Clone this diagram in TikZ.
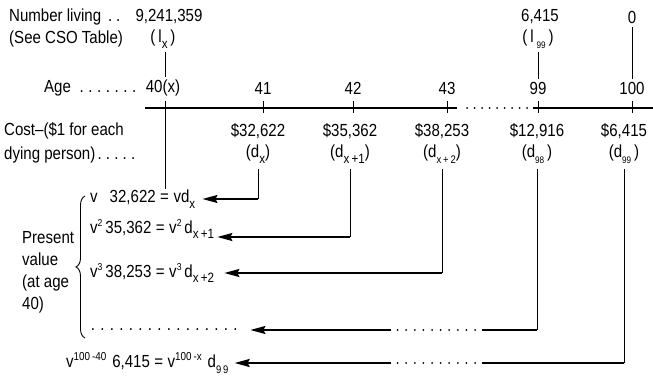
\documentclass[tikz,border=0pt]{standalone}
\usepackage{fontspec}
\setmainfont{Liberation Sans}[FakeStretch=0.86]
\usetikzlibrary{arrows.meta,decorations.pathreplacing,calc,positioning}

\newcommand{\dn}[2][13.5]{\raisebox{-0.6ex}{\fontsize{#1}{#1}\selectfont #2}}
\newcommand{\up}[2][10]{\raisebox{0.8ex}{\fontsize{#1}{#1}\selectfont #2}}
\newcommand{\dotrun}[2]{\hbox to #1{\xleaders\hbox to #2{\hss.\hss}\hfill}}
\newcommand{\eqs}{\hspace{4.5pt}=\hspace{4.5pt}}

\begin{document}
\begin{tikzpicture}[x=1pt,y=-1pt,
    every node/.style={inner sep=1pt, font=\fontsize{17.5}{20}\selectfont},
    axis/.style={line width=2.3pt},
    stem/.style={line width=0.9pt},
    leg/.style={line width=1.8pt},
    feed/.style={leg, -{Stealth[length=15pt,width=8pt,inset=2pt]}},
    dotrow/.style={line width=2pt, line cap=round, dash pattern=on 0pt off 8.6pt}]
  \useasboundingbox (0,0) rectangle (653,379);

  % Number living
  \node[anchor=west] (living) at (8,17) {Number living\hspace{5pt}\dotrun{16pt}{8pt}};
  \node[anchor=west] (cso) at (8,39) {(See CSO Table)};
  \node (n40) at (169,17) {9,241,359};
  \node (l40) at (163,39) {(\,l\dn{x}\,)};
  \node (n99) at (540,17) {6,415};
  \node (l99) at (538,39) {(\,l\,\dn[9.5]{99}\,)};
  \node (n100) at (632,17) {0};

  % Ages
  \node[anchor=west] (age) at (43,88) {Age\hspace{6pt}\dotrun{62pt}{7.8pt}};
  \node (a40) at (163,88) {40(x)};
  \node (a41) at (263,88) {41};
  \node (a42) at (353,88) {42};
  \node (a43) at (447,88) {43};
  \node (a99) at (538,88) {99};
  \node (a100) at (632,88) {100};

  \draw[stem] ([xshift=2pt,yshift=-3pt]l40.south) -- ([xshift=2pt,yshift=2pt]a40.north);
  \draw[stem] ([yshift=-3pt]l99.south) -- ([yshift=2pt]a99.north);
  \draw[stem] ([yshift=-3pt]n100.south) -- ([yshift=2pt]a100.north);

  % Time axis
  \coordinate (axA) at (145,108);
  \coordinate (axB) at (457,108);
  \coordinate (axC) at (533,108);
  \coordinate (axD) at (653,108);
  \draw[axis] (axA) -- (axB);
  \draw[dotrow, dash pattern=on 0pt off 7.5pt] ([xshift=10pt]axB) -- ([xshift=-5pt]axC);
  \draw[axis] (axC) -- (axD);
  \foreach \t in {a41,a42,a43,a99,a100}
    \draw[stem] ([yshift=-6pt]\t.south) -- ++(0,12);

  % Cost
  \node[anchor=west] (cost) at (3,131) {Cost--(\$1 for each};
  \node[anchor=west] (dying) at (3,155) {dying person)\dotrun{42pt}{8.2pt}};
  \node (cost41) at (258,131) {\$32,622};
  \node (cost42) at (350,131) {\$35,362};
  \node (cost43) at (442,131) {\$38,253};
  \node (cost99) at (537,131) {\$12,916};
  \node (cost100) at (624,131) {\$6,415};
  \node (dth41) at (258,154) {(d\dn{x})};
  \node (dth42) at (350,154) {(d\dn{x\,+1})};
  \node (dth43) at (442,154) {(d\dn[11]{x\,+\,2})};
  \node (dth99) at (537,154) {(d\dn[9.5]{98}\,)};
  \node (dth100) at (624,154) {(d\dn[9.5]{99}\,)};

  % Present values
  \node[anchor=west] (eq1) at (89,199) {v\hspace{12pt}32,622\eqs vd\dn{x}};
  \node[anchor=west] (eq2) at (89,229) {v\up{2}\,35,362\eqs v\up{2}\,d\dn{x\,+1}};
  \node[anchor=west] (eq3) at (89,273) {v\up{3}\,38,253\eqs v\up{3}\,d\dn{x\,+2}};
  \node[anchor=west] (eqdots) at (87,330) {\dotrun{152pt}{9.3pt}};
  \node[anchor=west] (eq100) at (65,363) {v\up[11.5]{100\,-40}\,\,6,415\eqs v\up[11.5]{100\,-x}\,\,d\dn[11]{9\,9}};
  \node[anchor=west, align=left, font=\fontsize{17.5}{22}\selectfont] (pv) at (21,272) {Present\\value\\(at age\\40)};
  \draw[stem, decorate, decoration={brace, amplitude=9pt}] (85,338) -- (85,196);

  \coordinate (t40) at (165,101);
  \draw[stem] (t40) -- (t40 |- eq1.north);

  \coordinate (tip1) at ([xshift=6pt]eq1.east);
  \coordinate (tip2) at ([xshift=2pt,yshift=-8pt]eq2.east);
  \coordinate (tip3) at ([xshift=9pt]eq3.east);
  \coordinate (tip4) at ([xshift=9pt]eqdots.east);
  \coordinate (tip5) at ([xshift=5pt]eq100.east);

  \draw[stem] ([yshift=-5pt]dth41.south) -- (dth41 |- tip1) coordinate (j41);
  \draw[feed] (j41) -- (tip1);
  \draw[stem] ([yshift=-5pt]dth42.south) -- (dth42 |- tip2) coordinate (j42);
  \draw[feed] (j42) -- (tip2);
  \draw[stem] ([yshift=-5pt]dth43.south) -- (dth43 |- tip3) coordinate (j43);
  \draw[feed] (j43) -- (tip3);

  \draw[stem] ([yshift=-5pt]dth99.south) -- (dth99 |- tip4) coordinate (j99);
  \draw[leg] (j99) -- ++(-55,0) coordinate (g99);
  \draw[dotrow] ([xshift=-7pt]g99) -- ++(-78,0) coordinate (h99);
  \draw[feed] ([xshift=-6pt]h99) -- (tip4);

  \draw[stem] ([yshift=-5pt]dth100.south) -- (dth100 |- tip5) coordinate (j100);
  \draw[leg] (j100) -- (j100 -| g99) coordinate (g100);
  \draw[dotrow] ([xshift=-7pt]g100) -- ++(-78,0) coordinate (h100);
  \draw[feed] ([xshift=-6pt]h100) -- (tip5);
\end{tikzpicture}
\end{document}
